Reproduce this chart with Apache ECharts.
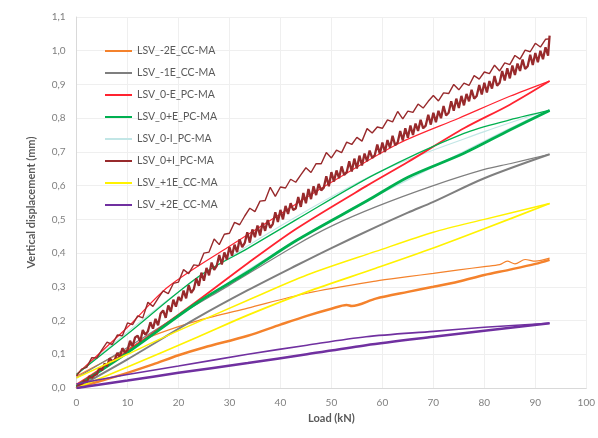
<!DOCTYPE html>
<html><head><meta charset="utf-8">
<script src="https://cdn.jsdelivr.net/npm/echarts@6/dist/echarts.min.js"></script>
<style>html,body{margin:0;padding:0;background:#fff}#c{width:598px;height:438px}</style>
</head><body><div id="c"></div>
<script>
// ---- data (load in kN, vertical displacement in mm) ----
const names = ['LSV_-2E_CC-MA','LSV_-1E_CC-MA','LSV_0-E_PC-MA','LSV_0+E_PC-MA','LSV_0-I_PC-MA','LSV_0+I_PC-MA','LSV_+1E_CC-MA','LSV_+2E_CC-MA'];
const xTicks = [0,10,20,30,40,50,60,70,80,90,100];
const yTicks = [0,0.1,0.2,0.3,0.4,0.5,0.6,0.7,0.8,0.9,1.0,1.1];

// LSV_-2E_CC-MA (orange)
const orangeLoadX = [0,5,10,15,20,25,33.6,40,45.2,50,53,54,58.7,65,70,75,80,85,90,92.8];
const orangeLoadY = [0,0.022,0.045,0.07,0.097,0.12,0.155,0.188,0.214,0.235,0.246,0.243,0.265,0.285,0.3,0.316,0.335,0.351,0.368,0.38];
const orangeUnX = [92.8,90,88,86,84.5,83,80,75,70,65,58.7,45.2,33.6,23.9,20,14.2,10,5,0];
const orangeUnY = [0.385,0.376,0.381,0.368,0.376,0.366,0.36,0.35,0.34,0.33,0.317,0.281,0.237,0.2,0.182,0.15,0.115,0.075,0.035];

// LSV_-1E_CC-MA (grey)
const greyLoadX = [0,10,23.9,33.6,43.2,50,58.7,65,70,80,92.8];
const greyLoadY = [0,0.085,0.21,0.29,0.364,0.415,0.477,0.52,0.552,0.622,0.693];
const greyUnX = [92.8,85,80,70,58.7,50,43.2,30,20,10,0];
const greyUnY = [0.693,0.665,0.648,0.6,0.537,0.48,0.425,0.305,0.215,0.12,0.03];

// LSV_0-E_PC-MA (red)
const redLoadX = [0,10,23.9,33.6,43.2,57,65,76,85,92.8];
const redLoadY = [0.01,0.11,0.26,0.37,0.473,0.6,0.67,0.77,0.84,0.91];
const redUnX = [92.8,85,75,63.2,50,43,30,18,10,0];
const redUnY = [0.91,0.865,0.8,0.725,0.61,0.545,0.42,0.3,0.18,0.04];

// LSV_0+E_PC-MA (green)
const greenLoadX = [0,10,23.9,33.6,43.2,57,65,76,85,92.8];
const greenLoadY = [0.005,0.105,0.255,0.344,0.438,0.555,0.625,0.696,0.765,0.823];
const greenUnX = [92.8,85,76,58.7,43.2,33.6,23.9,10,0];
const greenUnY = [0.823,0.795,0.755,0.635,0.5,0.414,0.33,0.16,0.04];

// LSV_0-I_PC-MA (pale cyan)
const cyanLoadX = [0,10,25,40,55,70,85,92.8];
const cyanLoadY = [0.005,0.105,0.265,0.41,0.54,0.655,0.77,0.825];
const cyanUnX = [92.8,80,60,40,20,0];
const cyanUnY = [0.825,0.76,0.645,0.48,0.285,0.04];

// LSV_0+I_PC-MA (dark red, noisy) - loading branch
const brownLoadX = [0,0.5,1,1.5,2,2.5,3,3.5,4,4.5,5,5.5,6,6.5,7,7.5,8,8.5,9,9.5,10,10.5,11,11.5,12,12.5,13,13.5,14,14.5,15,15.5,16,16.5,17,17.5,18,18.5,19,19.5,20,20.5,21,21.5,22,22.5,23,23.5,24,24.5,25,25.5,26,26.5,27,27.5,28,28.5,29,29.5,30,30.5,31,31.5,32,32.5,33,33.5,34,34.5,35,35.5,36,36.5,37,37.5,38,38.5,39,39.5,40,40.5,41,41.5,42,42.5,43,43.5,44,44.5,45,45.5,46,46.5,47,47.5,48,48.5,49,49.5,50,50.5,51,51.5,52,52.5,53,53.5,54,54.5,55,55.5,56,56.5,57,57.5,58,58.5,59,59.5,60,60.5,61,61.5,62,62.5,63,63.5,64,64.5,65,65.5,66,66.5,67,67.5,68,68.5,69,69.5,70,70.5,71,71.5,72,72.5,73,73.5,74,74.5,75,75.5,76,76.5,77,77.5,78,78.5,79,79.5,80,80.5,81,81.5,82,82.5,83,83.5,84,84.5,85,85.5,86,86.5,87,87.5,88,88.5,89,89.5,90,90.5,91,91.5,92,92.5,92.8];
const brownLoadY = [0.000,0.010,0.008,0.022,0.016,0.035,0.030,0.038,0.041,0.060,0.052,
  0.072,0.065,0.088,0.079,0.083,0.104,0.092,0.118,0.105,0.112,
  0.140,0.124,0.150,0.155,0.138,0.172,0.158,0.168,0.195,0.176,
  0.205,0.186,0.221,0.230,0.208,0.245,0.226,0.262,0.241,0.270,
  0.258,0.289,0.266,0.305,0.282,0.293,0.325,0.303,0.342,0.318,
  0.356,0.334,0.372,0.350,0.362,0.394,0.366,0.402,0.381,0.418,
  0.392,0.425,0.403,0.441,0.418,0.430,0.462,0.431,0.470,0.447,
  0.482,0.452,0.490,0.466,0.498,0.475,0.486,0.521,0.492,0.528,
  0.500,0.540,0.516,0.548,0.528,0.532,0.566,0.537,0.578,0.548,
  0.590,0.560,0.598,0.572,0.605,0.586,0.594,0.628,0.598,0.640,
  0.612,0.645,0.622,0.657,0.632,0.640,0.672,0.642,0.680,0.651,
  0.689,0.660,0.695,0.672,0.704,0.682,0.690,0.722,0.694,0.728,
  0.700,0.735,0.712,0.748,0.720,0.728,0.762,0.734,0.770,0.742,
  0.778,0.750,0.784,0.762,0.795,0.770,0.778,0.810,0.781,0.816,
  0.788,0.822,0.800,0.836,0.808,0.816,0.850,0.822,0.858,0.830,
  0.866,0.838,0.872,0.850,0.884,0.858,0.866,0.898,0.870,0.905,
  0.876,0.910,0.888,0.925,0.896,0.905,0.940,0.912,0.948,0.918,
  0.956,0.928,0.962,0.940,0.974,0.946,0.954,0.988,0.958,0.993,
  0.966,1.000,0.975,1.010,0.985,1.045];
// unloading branch
const brownUnX = [0,1,2,3,4,5,6,7,8,9,10,11,12,13,14,15,16,17,18,19,20,21,22,23,24,25,26,27,28,29,30,31,32,33,34,35,36,37,38,39,40,41,42,43,44,45,46,47,48,49,50,51,52,53,54,55,56,57,58,59,60,61,62,63,64,65,66,67,68,69,70,71,72,73,74,75,76,77,78,79,80,81,82,83,84,85,86,87,88,89,90,91,92,92.8];
const brownUnY = [0.035,0.056,0.061,0.090,0.089,0.114,0.136,0.129,0.157,0.155,0.193,0.188,0.214,0.208,0.254,0.242,0.266,0.288,0.280,0.310,0.314,0.351,0.339,0.365,0.363,0.400,0.403,0.442,0.425,0.456,0.459,0.491,0.484,0.510,0.533,0.523,0.554,0.556,0.595,0.568,0.596,0.593,0.619,0.610,0.632,0.653,0.639,0.665,0.665,0.698,0.682,0.705,0.698,0.729,0.722,0.743,0.732,0.769,0.756,0.774,0.770,0.795,0.789,0.820,0.798,0.821,0.817,0.842,0.830,0.850,0.867,0.851,0.875,0.873,0.900,0.884,0.904,0.897,0.926,0.916,0.937,0.932,0.957,0.940,0.964,0.959,0.986,0.975,1.002,0.997,1.022,1.011,1.034,1.035];

// LSV_+1E_CC-MA (yellow)
const yellowLoadX = [0,10,23.9,33.6,45.2,58.7,70,80,92.8];
const yellowLoadY = [0,0.062,0.152,0.216,0.285,0.355,0.415,0.472,0.547];
const yellowUnX = [92.8,80,70,58.7,45.2,33.6,20,10,0];
const yellowUnY = [0.547,0.5,0.462,0.405,0.335,0.26,0.17,0.1,0.03];

// LSV_+2E_CC-MA (purple)
const purpleLoadX = [0,10,20,33.6,45.2,56.8,70,80,92.8];
const purpleLoadY = [0,0.022,0.045,0.074,0.1,0.127,0.152,0.17,0.192];
const purpleUnX = [92.8,80,70,56.8,45.2,33.6,20,10,0];
const purpleUnY = [0.192,0.18,0.168,0.152,0.127,0.1,0.065,0.04,0.012];

// ---- chart ----
function pts(xs, ys){ return xs.map((x,i)=>[x, ys[i]]); }
const tests = [
  {name:names[0], color:'#F4822C', load:[orangeLoadX,orangeLoadY], un:[orangeUnX,orangeUnY], wl:2.5, wu:1.2, smooth:0.3},
  {name:names[1], color:'#7F7F7F', load:[greyLoadX,greyLoadY], un:[greyUnX,greyUnY], wl:2.0, wu:1.2, smooth:0.3},
  {name:names[2], color:'#FF2330', load:[redLoadX,redLoadY], un:[redUnX,redUnY], wl:1.8, wu:1.2, smooth:0.3},
  {name:names[3], color:'#00B050', load:[greenLoadX,greenLoadY], un:[greenUnX,greenUnY], wl:2.8, wu:1.3, smooth:0.3},
  {name:names[4], color:'#C2E6E6', load:[cyanLoadX,cyanLoadY], un:[cyanUnX,cyanUnY], wl:1.2, wu:1.2, smooth:0.3, z:1},
  {name:names[5], color:'#982A2C', load:[brownLoadX,brownLoadY], un:[brownUnX,brownUnY], wl:2.3, wu:1.4, smooth:false},
  {name:names[6], color:'#FFF200', load:[yellowLoadX,yellowLoadY], un:[yellowUnX,yellowUnY], wl:1.7, wu:1.5, smooth:0.3},
  {name:names[7], color:'#7030A0', load:[purpleLoadX,purpleLoadY], un:[purpleUnX,purpleUnY], wl:2.5, wu:1.6, smooth:0.3}
];
const series = [];
tests.forEach(t => {
  [[t.load, t.wl], [t.un, t.wu]].forEach(([d, w]) => {
    series.push({
      type:'line', name:t.name, data:pts(d[0], d[1]), symbol:'none', smooth:t.smooth,
      color:t.color, itemStyle:{color:t.color},
      lineStyle:{width:w, color:t.color}, z:(t.z||2), silent:true
    });
  });
});

const FONT = 'Lato';
const chart = echarts.init(document.getElementById('c'), null, {renderer:'canvas'});
chart.setOption({
  animation:false,
  backgroundColor:'#ffffff',
  grid:{left:76.5, right:4.5, top:17, bottom:50, containLabel:false},
  legend:{
    data:names, orient:'vertical', left:100, top:39, icon:'rect',
    itemWidth:27, itemHeight:2, itemGap:8,
    textStyle:{fontSize:10.5, color:'#595959', fontFamily:FONT, lineHeight:14}
  },
  xAxis:{
    type:'value', min:xTicks[0], max:xTicks[xTicks.length-1], interval:10,
    axisLine:{show:true, lineStyle:{color:'#d9d9d9'}}, axisTick:{show:false},
    axisLabel:{color:'#7f7f7f', fontSize:10, margin:10, fontFamily:FONT},
    splitLine:{show:true, lineStyle:{color:'#efefef'}},
    name:'Load (kN)', nameLocation:'middle', nameGap:24,
    nameTextStyle:{fontWeight:'bold', fontSize:11, color:'#595959', fontFamily:FONT}
  },
  yAxis:{
    type:'value', min:yTicks[0], max:yTicks[yTicks.length-1], interval:0.1,
    axisLine:{show:true, lineStyle:{color:'#d9d9d9'}}, axisTick:{show:false},
    axisLabel:{color:'#7f7f7f', fontSize:10, margin:11, fontFamily:FONT,
      formatter:v => v.toFixed(1).replace('.', ',')},
    splitLine:{show:true, lineStyle:{color:'#efefef'}},
    name:'Vertical displacement (mm)', nameLocation:'middle', nameGap:40, nameRotate:90,
    nameTextStyle:{fontWeight:'bold', fontSize:11, color:'#595959', fontFamily:FONT}
  },
  series:series
});
</script>
</body></html>
